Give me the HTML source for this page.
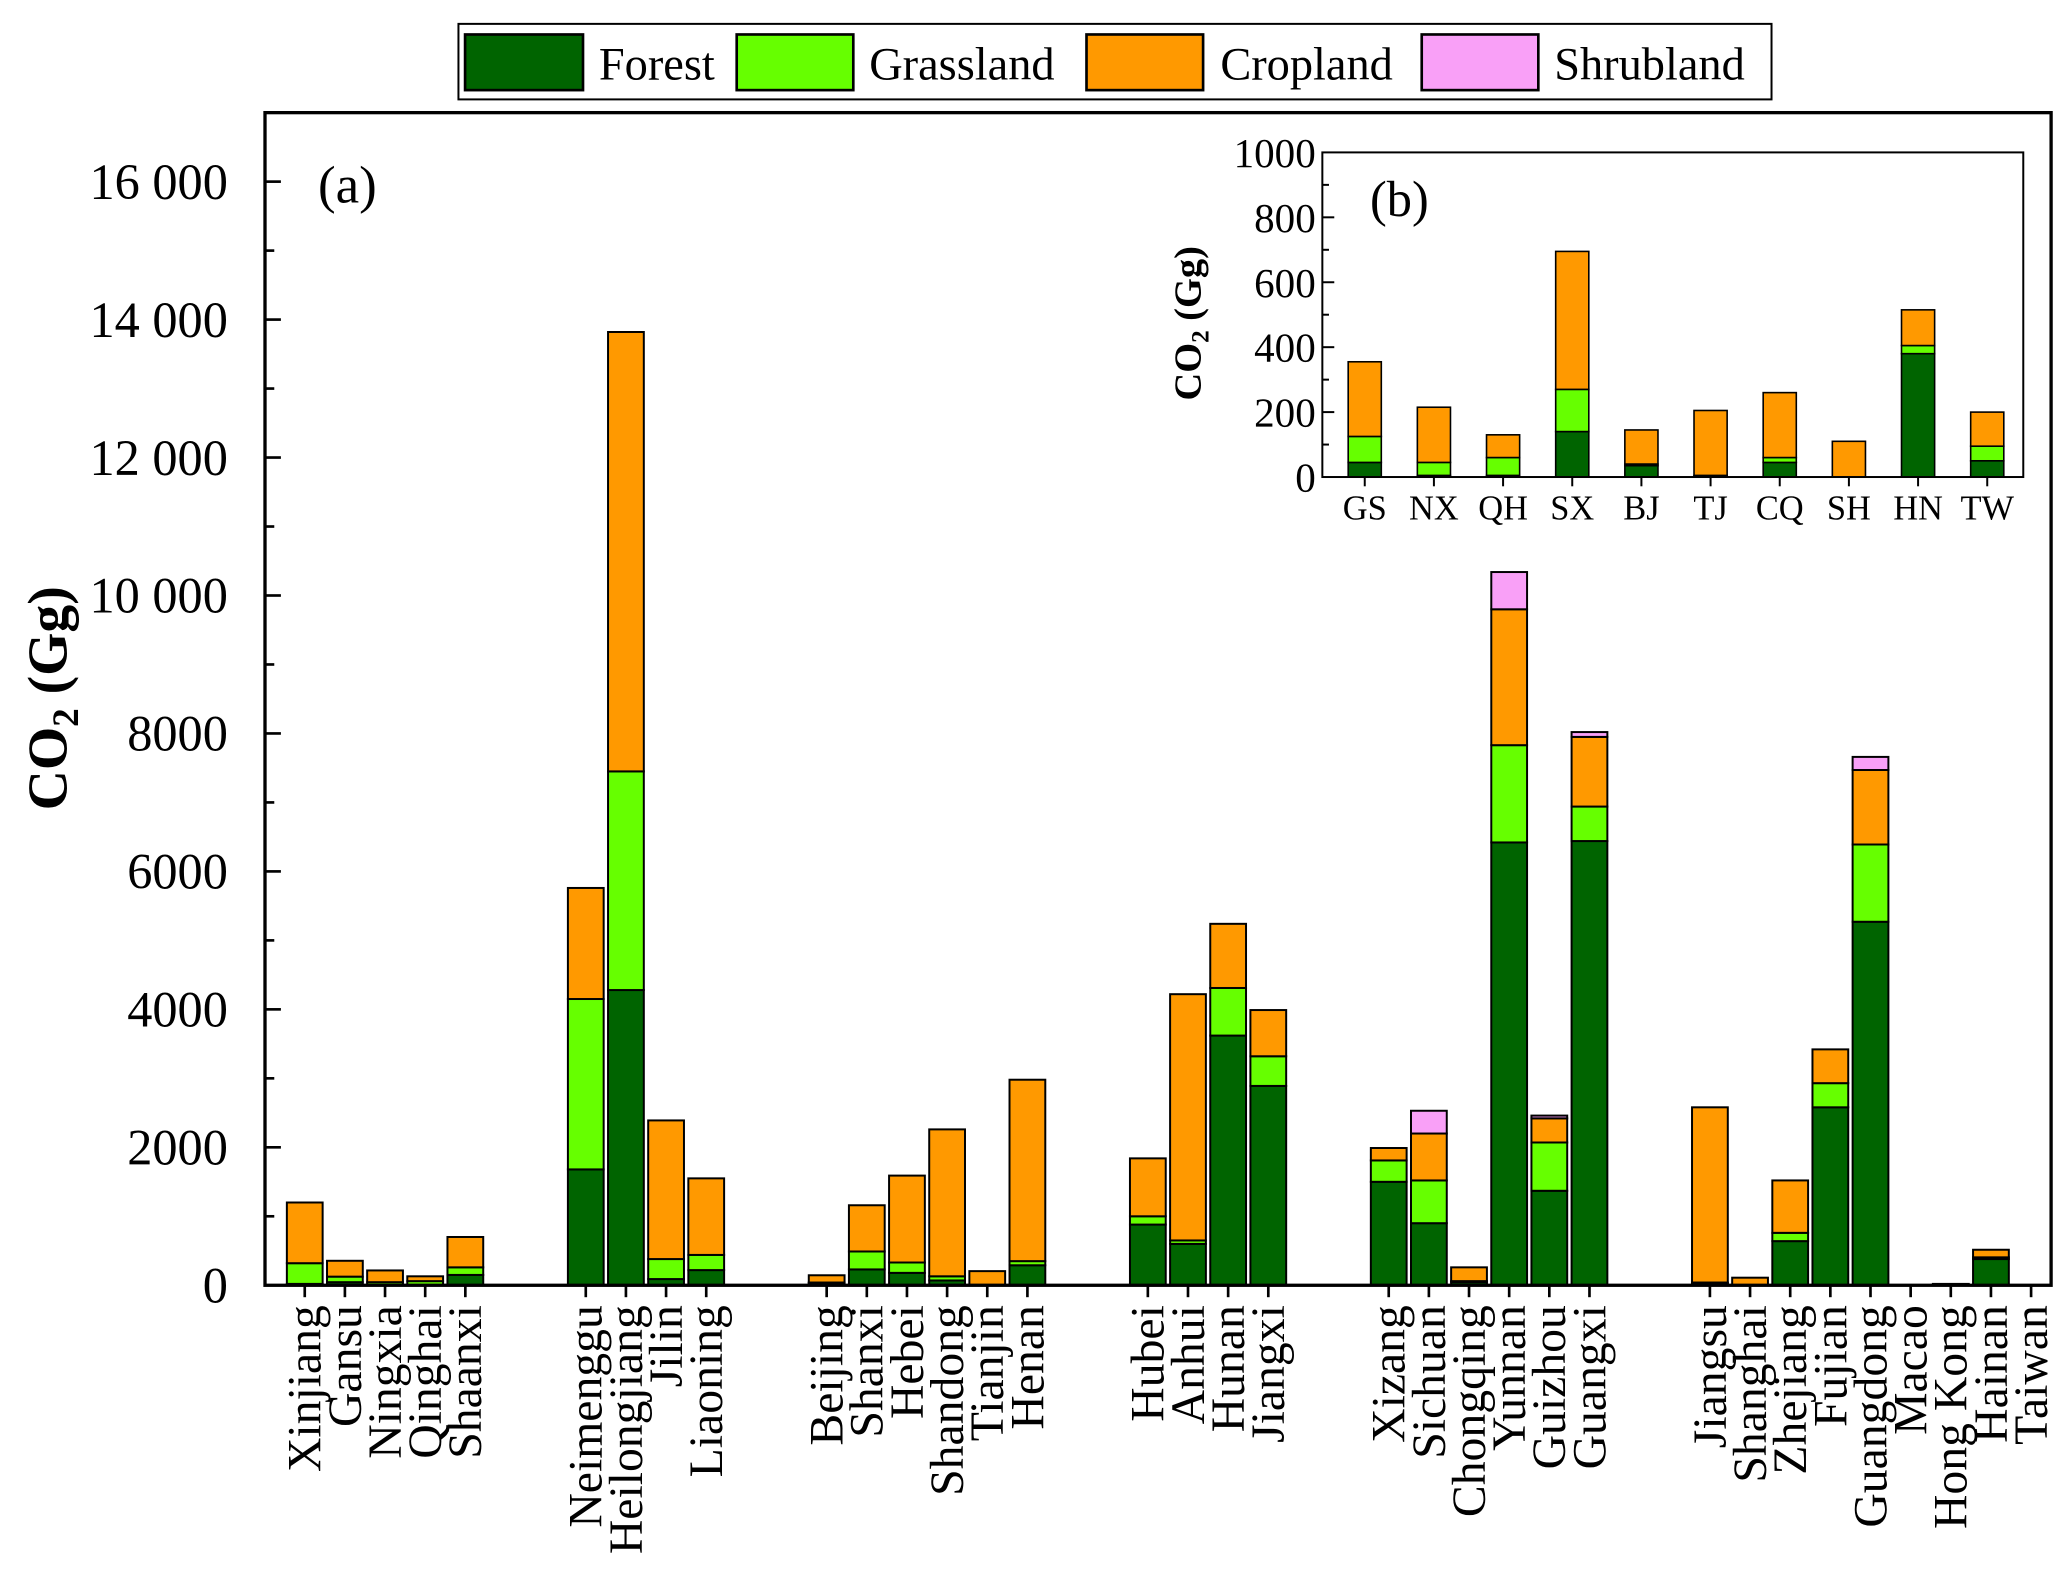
<!DOCTYPE html>
<html><head><meta charset="utf-8"><style>
html,body{margin:0;padding:0;background:#fff;}
svg{display:block;font-family:"Liberation Serif",serif;}
</style></head><body>
<svg id="chart" width="2067" height="1587" viewBox="0 0 1560 1197.7" xmlns="http://www.w3.org/2000/svg">
<g id="legend">
<rect x="346" y="18" width="991" height="57" fill="#fff" stroke="#000" stroke-width="1.5"/>
<rect x="351" y="26" width="89" height="42" fill="#006400" stroke="#000" stroke-width="2"/>
<text x="452" y="60" font-size="35">Forest</text>
<rect x="556" y="26" width="88" height="42" fill="#66ff00" stroke="#000" stroke-width="2"/>
<text x="656" y="60" font-size="35">Grassland</text>
<rect x="820" y="26" width="88" height="42" fill="#ff9900" stroke="#000" stroke-width="2"/>
<text x="921" y="60" font-size="35">Cropland</text>
<rect x="1073" y="26" width="88" height="42" fill="#f9a0f7" stroke="#000" stroke-width="2"/>
<text x="1173" y="60" font-size="35">Shrubland</text>
</g>
<g id="main"></g>
<g id="inset"></g>
</svg>
<script>
// Main chart data (Gg)
const categories = ["Xinjiang","Gansu","Ningxia","Qinghai","Shaanxi","","","Neimenggu","Heilongjiang","Jilin","Liaoning","","","Beijing","Shanxi","Hebei","Shandong","Tianjin","Henan","","","Hubei","Anhui","Hunan","Jiangxi","","","Xizang","Sichuan","Chongqing","Yunnan","Guizhou","Guangxi","","","Jiangsu","Shanghai","Zhejiang","Fujian","Guangdong","Macao","Hong Kong","Hainan","Taiwan"];
const forest =    [20,45,5,5,150,0,0,1680,4280,90,220,0,0,35,230,180,70,2,290,0,0,880,600,3620,2890,0,0,1500,900,45,6420,1370,6440,0,0,30,0,640,2580,5270,0,15,380,0];
const grassland = [300,80,40,55,110,0,0,2470,3170,290,220,0,0,5,260,150,60,3,60,0,0,120,50,690,430,0,0,310,620,15,1410,700,500,0,0,10,0,120,350,1120,0,0,25,0];
const cropland =  [880,230,170,70,440,0,0,1610,6370,2010,1110,0,0,105,670,1260,2130,200,2630,0,0,840,3570,930,670,0,0,180,680,200,1970,350,1010,0,0,2540,110,760,490,1080,0,5,110,0];
const shrubland = [0,0,0,0,0,0,0,0,0,0,0,0,0,0,0,0,0,0,0,0,0,0,0,0,0,0,0,0,330,0,540,40,70,0,0,0,0,0,0,190,0,0,0,0];
const yTicks = [0,2000,4000,6000,8000,10000,12000,14000,16000];
const yTickLabels = ["0","2000","4000","6000","8000","10 000","12 000","14 000","16 000"];
// Inset data (Gg)
const insetCats = ["GS","NX","QH","SX","BJ","TJ","CQ","SH","HN","TW"];
const insetForest =    [45,5,5,140,35,2,45,0,380,50];
const insetGrassland = [80,40,55,130,5,3,15,0,25,45];
const insetCropland =  [230,170,70,425,105,200,200,110,110,105];
const insetTicks = [0,200,400,600,800,1000];

const NS="http://www.w3.org/2000/svg";
const colors=["#006400","#66ff00","#ff9900","#f9a0f7"];
const names=["forest","grassland","cropland","shrubland"];
function mk(tag,attrs,parent,text){const e=document.createElementNS(NS,tag);for(const k in attrs)e.setAttribute(k,attrs[k]);if(text!==undefined)e.textContent=text;parent.appendChild(e);return e;}

const main=document.getElementById('main');
const L=200,R=1548,T=85,B=970,YMAX=17000;
const y=v=>B-(v/YMAX)*(B-T);
const x=i=>230+i*30.3;
const BW=27;
for(let v=1000;v<YMAX;v+=1000){
 const t=mk('line',{x1:L,x2:L+(v%2000===0?12:7),y1:y(v),y2:y(v),stroke:'#000','stroke-width':2},main);
 
 
}
yTicks.forEach((v,i)=>{
 const t=mk('text',{x:172,y:y(v)+13,'font-size':38,'text-anchor':'end'},main,yTickLabels[i]);
 
 
});
const series=[forest,grassland,cropland,shrubland];
categories.forEach((c,i)=>{
 if(!c)return;
 let acc=0;
 series.forEach((s,k)=>{
  const v=s[i]; if(v<=0)return;
  const r=mk('rect',{x:x(i)-BW/2,y:y(acc+v),width:BW,height:y(acc)-y(acc+v),fill:colors[k],stroke:'#000','stroke-width':1.5},main);
  
  
  acc+=v;
 });
 const tk=mk('line',{x1:x(i),x2:x(i),y1:B,y2:B+9,stroke:'#000','stroke-width':2},main);
 
 
 const lb=mk('text',{x:0,y:0,'font-size':36,'text-anchor':'end',transform:`translate(${x(i)+12},${B+15}) rotate(-90)`},main,c);
 
 
});
const fr=mk('rect',{x:L,y:T,width:R-L,height:B-T,fill:'none',stroke:'#000','stroke-width':2.5},main);


const yt=mk('text',{x:0,y:0,'font-size':42,'font-weight':'bold','text-anchor':'middle',transform:'translate(50,527) rotate(-90)'},main);


yt.innerHTML='CO<tspan font-size="28" dy="9">2</tspan><tspan dy="-9"> (Gg)</tspan>';
const pa=mk('text',{x:240,y:153,'font-size':40},main,'(a)');



const ins=document.getElementById('inset');
const IL=998,IR=1527,IT=115,IB=360,IMAX=1000;
const iy=v=>IB-(v/IMAX)*(IB-IT);
const ix=i=>1030+i*52.2;
const IBW=25;
for(let v=100;v<IMAX;v+=100){
 const t=mk('line',{x1:IL,x2:IL+(v%200===0?9:5),y1:iy(v),y2:iy(v),stroke:'#000','stroke-width':1.5},ins);
 
 
}
insetTicks.forEach(v=>{
 const t=mk('text',{x:993,y:iy(v)+11,'font-size':31,'text-anchor':'end'},ins,String(v));
 
 
});
const iseries=[insetForest,insetGrassland,insetCropland];
insetCats.forEach((c,i)=>{
 let acc=0;
 iseries.forEach((s,k)=>{
  const v=s[i]; if(v<=0)return;
  const r=mk('rect',{x:ix(i)-IBW/2,y:iy(acc+v),width:IBW,height:iy(acc)-iy(acc+v),fill:colors[k],stroke:'#000','stroke-width':1.2},ins);
  
  
  acc+=v;
 });
 const tk=mk('line',{x1:ix(i),x2:ix(i),y1:IB,y2:IB+7,stroke:'#000','stroke-width':1.5},ins);
 
 
 const lb=mk('text',{x:ix(i),y:392,'font-size':26,'text-anchor':'middle'},ins,c);
 
 
});
const ifr=mk('rect',{x:IL,y:IT,width:IR-IL,height:IB-IT,fill:'none',stroke:'#000','stroke-width':1.5},ins);


const iyt=mk('text',{x:0,y:0,'font-size':29,'font-weight':'bold','text-anchor':'middle',transform:'translate(906,244) rotate(-90)'},ins);


iyt.innerHTML='CO<tspan font-size="19" dy="6">2</tspan><tspan dy="-6"> (Gg)</tspan>';
const pb=mk('text',{x:1034,y:163,'font-size':38},ins,'(b)');


</script>
</body></html>
